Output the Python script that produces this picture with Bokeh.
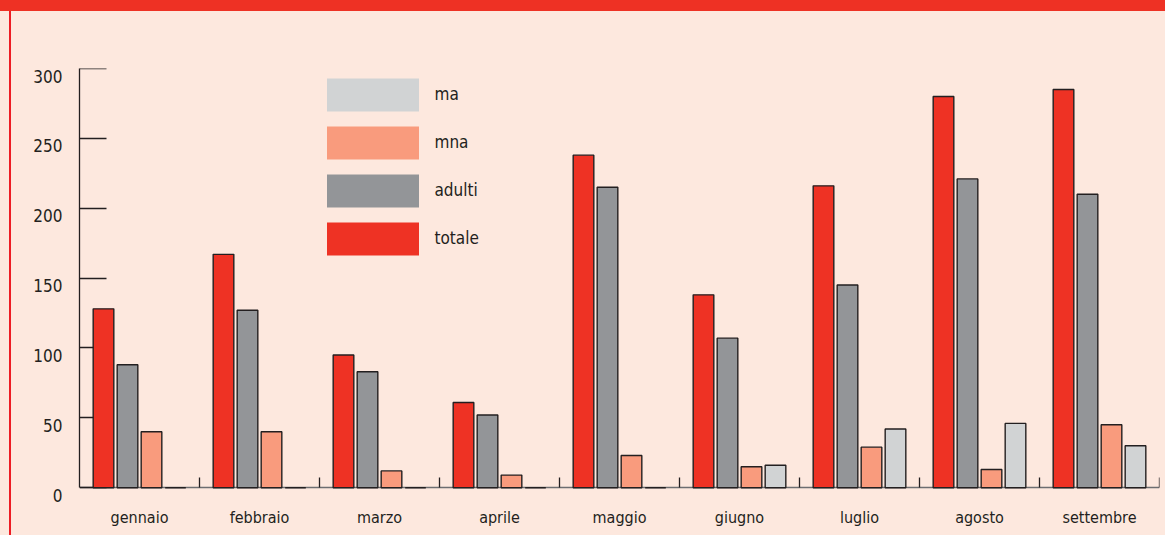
from bokeh.plotting import figure
from bokeh.models import (Range1d, FixedTicker, LinearAxis, Legend, LegendItem,
                          ColumnDataSource, CustomJSTickFormatter)
from bokeh.transform import dodge
from bokeh.embed import file_html
from bokeh.resources import INLINE

# ---- data ----
months = ["gennaio", "febbraio", "marzo", "aprile", "maggio",
          "giugno", "luglio", "agosto", "settembre"]
totale = [128, 167, 95, 61, 238, 138, 216, 280, 285]
adulti = [88, 127, 83, 52, 215, 107, 145, 221, 210]
mna = [40, 40, 12, 9, 23, 15, 29, 13, 45]
ma = [0, 0, 0, 0, 0, 16, 42, 46, 30]
y_ticks = [0, 50, 100, 150, 200, 250, 300]
series_names = ["totale", "adulti", "mna", "ma"]
legend_order = ["ma", "mna", "adulti", "totale"]

# ---- style ----
COLORS = {"totale": "#EE3224", "adulti": "#939598", "mna": "#F99B7D", "ma": "#D1D3D4"}
OFFSETS = {"totale": -0.3, "adulti": -0.1, "mna": 0.1, "ma": 0.3}
FONT = "DejaVu Sans Condensed"
BG = "#FDE8DE"
DARK = "#231F20"
LABEL_SHIFT = 5.4      # tick labels sit a little below their tick (in y units)
Y_PAD = 5.6            # frame extends slightly below zero to hold the "0" label

W, H = 1165, 535

p = figure(width=W, height=H, output_backend="svg", toolbar_location=None,
           x_range=Range1d(0, len(months)), y_range=Range1d(-Y_PAD, 300),
           x_axis_type=None, y_axis_type=None,
           min_border_left=79, min_border_right=6,
           min_border_top=68, min_border_bottom=40)
p.extra_y_ranges = {"labels": Range1d(-Y_PAD + LABEL_SHIFT, 300 + LABEL_SHIFT)}
p.background_fill_color = BG
p.border_fill_alpha = 0
p.outline_line_color = None
# page decoration: red band on top, thin red rule on the left
p.styles = {
    "background": ("linear-gradient(#EE3124, #EE3124) 0 0 / 100% 11px no-repeat, "
                   "linear-gradient(#ED1C24, #ED1C24) 8.5px 0 / 2.2px 100% no-repeat, "
                   + BG),
}

src = ColumnDataSource(dict(idx=list(range(len(months))), totale=totale,
                            adulti=adulti, mna=mna, ma=ma))

# --- x: month labels (inner axis, no line / ticks)
xlab = LinearAxis(
    ticker=FixedTicker(ticks=[i + 0.5 for i in range(len(months))]),
    formatter=CustomJSTickFormatter(args=dict(months=months),
                                    code="return months[Math.floor(tick)]"))
xlab.axis_line_color = None
xlab.major_tick_line_color = None
xlab.minor_tick_line_color = None
xlab.major_tick_in = 0
xlab.major_tick_out = 0
xlab.major_label_text_font = FONT
xlab.major_label_text_font_size = "16px"
xlab.major_label_text_color = DARK
xlab.major_label_standoff = 12
p.add_layout(xlab, "below")

# --- x: axis line at y = 0 with small ticks at category boundaries (under bars)
xaxis = LinearAxis(
    fixed_location=0, level="underlay",
    ticker=FixedTicker(ticks=[], minor_ticks=list(range(1, len(months) + 1))),
    formatter=CustomJSTickFormatter(code="return ''"))
xaxis.axis_line_color = "#6d6e71"
xaxis.axis_line_width = 1.5
xaxis.major_tick_line_color = None
xaxis.minor_tick_in = 10
xaxis.minor_tick_out = 0
xaxis.minor_tick_line_color = DARK
xaxis.minor_tick_line_width = 1.3
xaxis.major_label_text_color = None
p.add_layout(xaxis, "below")

# --- y: tick labels + axis line (inner axis)
ylab = LinearAxis(y_range_name="labels", ticker=FixedTicker(ticks=y_ticks),
                  bounds=(LABEL_SHIFT, 300 + LABEL_SHIFT))
ylab.axis_line_color = DARK
ylab.axis_line_width = 1.3
ylab.major_tick_line_color = None
ylab.minor_tick_line_color = None
ylab.major_tick_in = 0
ylab.major_tick_out = 0
ylab.major_label_standoff = 17
ylab.major_label_text_font = FONT
ylab.major_label_text_font_size = "17px"
ylab.major_label_text_color = DARK
p.add_layout(ylab, "left")

# --- y: inward ticks, drawn under the bars
yaxis = LinearAxis(fixed_location=0, bounds=(0, 300),
                   ticker=FixedTicker(ticks=y_ticks), level="underlay",
                   formatter=CustomJSTickFormatter(code="return ''"))
yaxis.axis_line_color = None
yaxis.major_tick_in = 27
yaxis.major_tick_out = 0
yaxis.major_tick_line_color = DARK
yaxis.major_tick_line_width = 1.3
yaxis.minor_tick_line_color = None
yaxis.major_label_text_color = None
p.add_layout(yaxis, "left")

# bars
for name in series_names:
    p.vbar(x=dodge("idx", 0.5 + OFFSETS[name], range=p.x_range), top=name,
           width=0.172, source=src, fill_color=COLORS[name],
           line_color=DARK, line_width=1.4)

# legend swatches: same series drawn with zero height (invisible), no outline
items = []
for name in legend_order:
    r = p.vbar(x=dodge("idx", 0.5, range=p.x_range), top=name, bottom=name,
               width=0.1, source=src, fill_color=COLORS[name], line_color=None)
    items.append(LegendItem(label=name, renderers=[r]))
legend = Legend(items=items, location=(235.5, 236.4), orientation="vertical",
                glyph_width=115, glyph_height=41, label_height=41, spacing=7,
                padding=0, margin=0, label_standoff=5,
                label_text_font=FONT, label_text_font_size="17px",
                label_text_color=DARK, background_fill_alpha=0,
                border_line_color=None)
p.add_layout(legend, "center")

open("out.html", "w").write(file_html(p, INLINE))
